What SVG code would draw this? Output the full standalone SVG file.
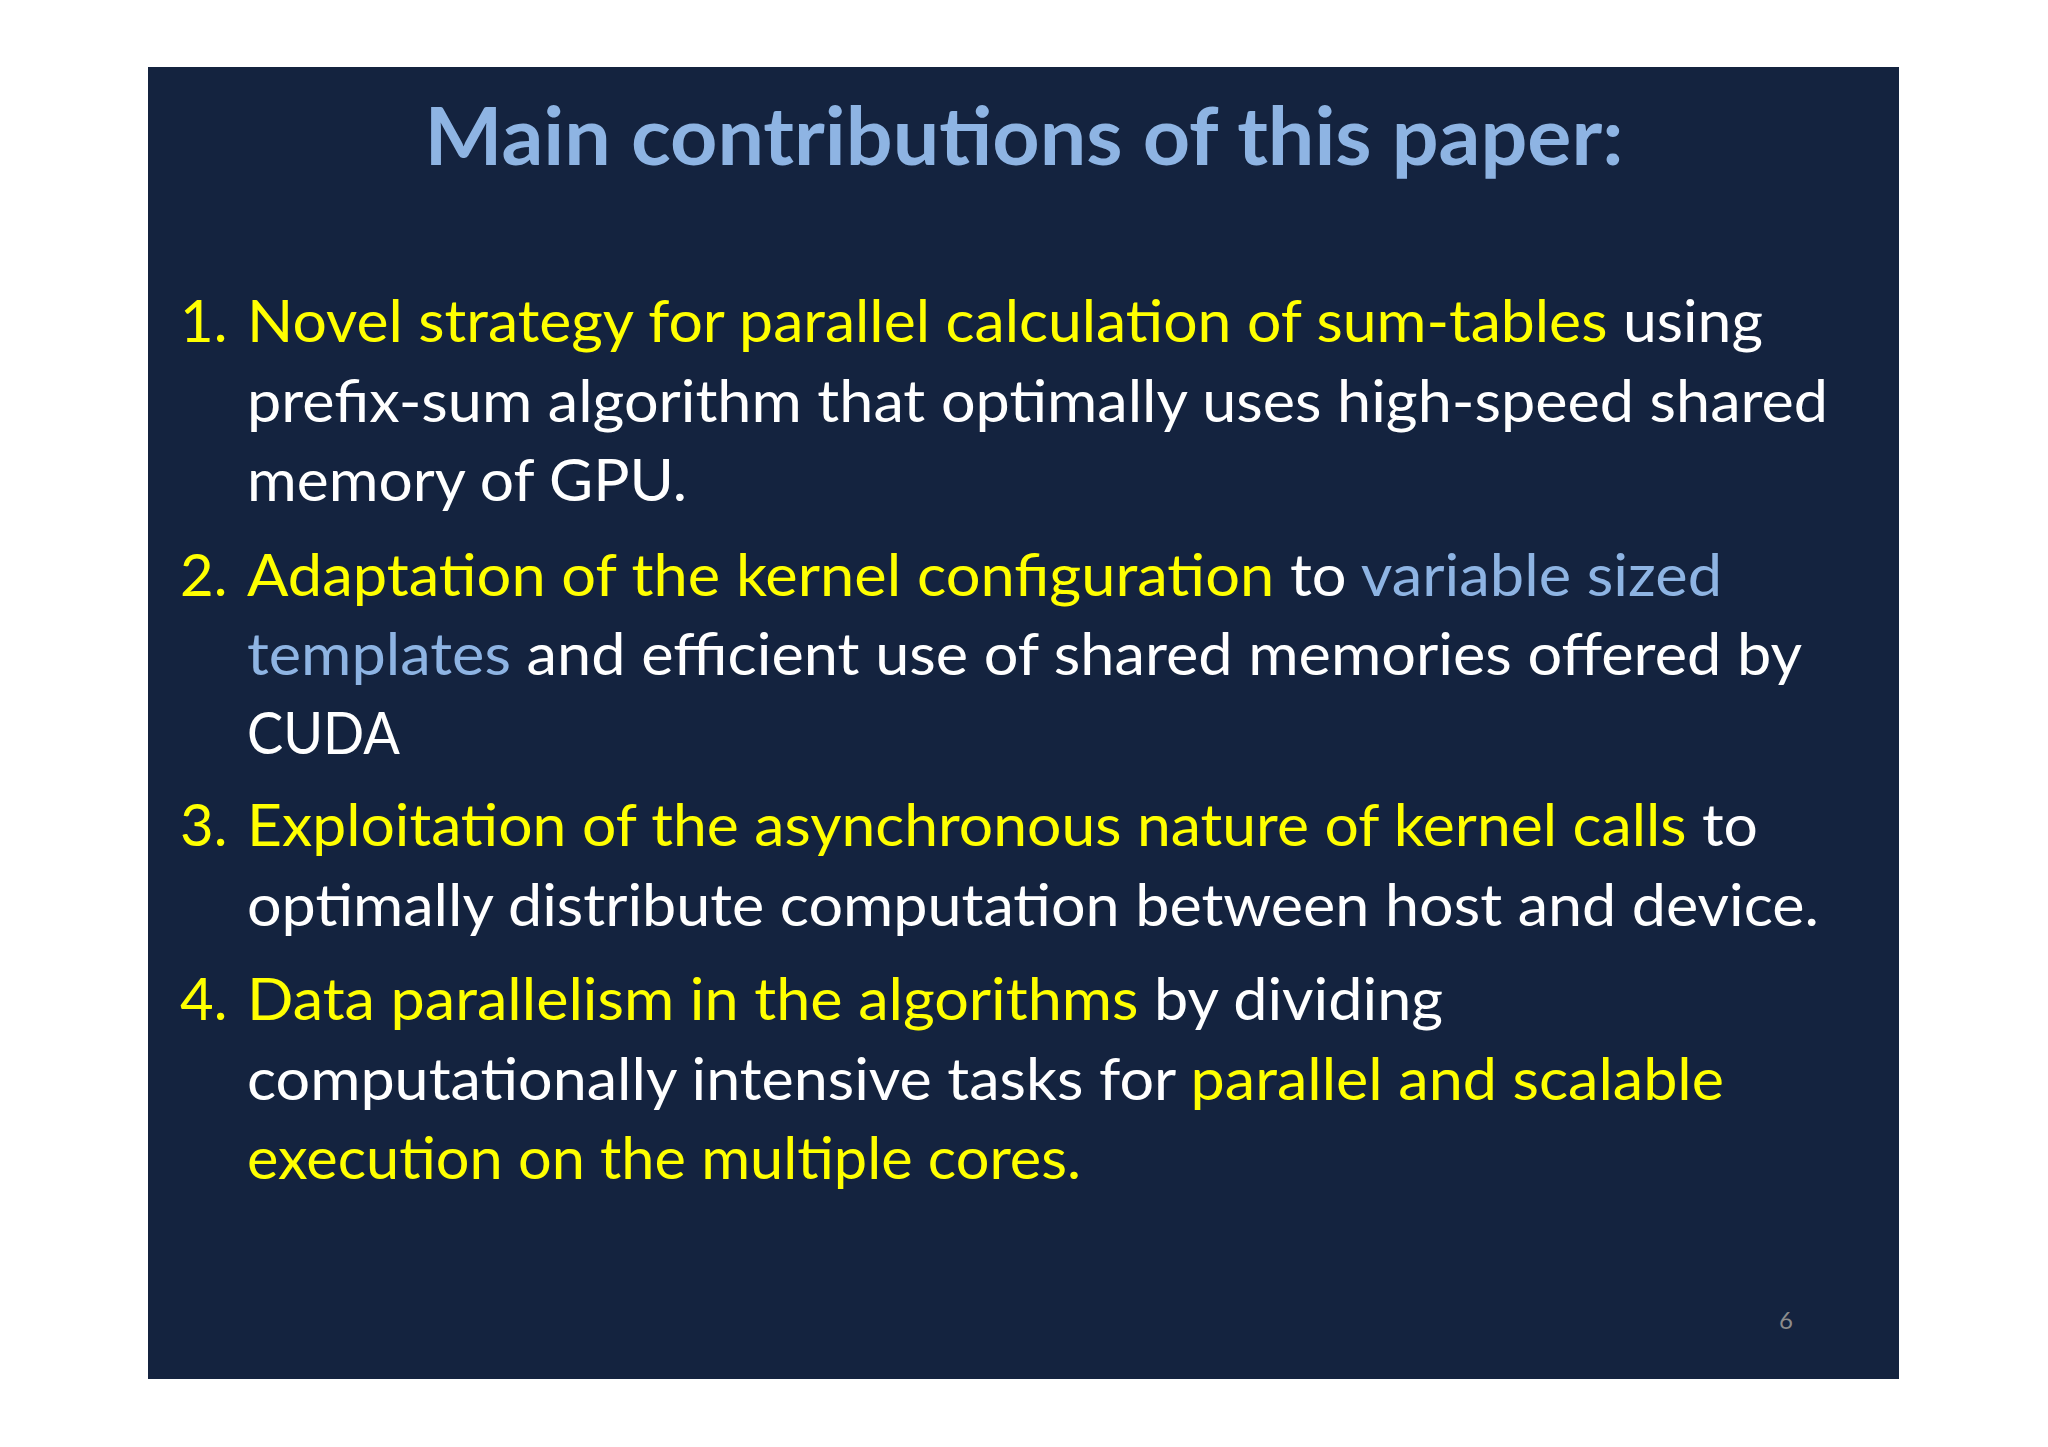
<svg xmlns="http://www.w3.org/2000/svg" width="2048" height="1447" viewBox="0 0 2048 1447">
<style>
.b{font-family:Lato,"Open Sans",sans-serif;font-size:58px;fill:#ffffff}
.y{fill:#ffff00}.l{fill:#8eb4e3}
</style>
<rect width="2048" height="1447" fill="#ffffff"/>
<rect x="148" y="67" width="1751" height="1312" fill="#14233f"/>
<text x="1024" y="165" text-anchor="middle" font-family="Lato,'Open Sans',sans-serif" font-weight="bold" font-size="80" fill="#8eb4e3" textLength="1199" lengthAdjust="spacingAndGlyphs">Main contributions of this paper:</text>
<g class="b">
<text x="180" y="342" class="y">1.</text>
<text x="247" y="342" textLength="1516" lengthAdjust="spacingAndGlyphs"><tspan class="y">Novel strategy for parallel calculation of sum-tables</tspan> using</text>
<text x="247" y="422" textLength="1581" lengthAdjust="spacingAndGlyphs">prefix-sum algorithm that optimally uses high-speed shared</text>
<text x="247" y="501" textLength="440" lengthAdjust="spacingAndGlyphs">memory of GPU.</text>
<text x="180" y="596" class="y">2.</text>
<text x="247" y="596" textLength="1475" lengthAdjust="spacingAndGlyphs"><tspan class="y">Adaptation of the kernel configuration</tspan> to  <tspan class="l">variable sized</tspan></text>
<text x="247" y="675" textLength="1555" lengthAdjust="spacingAndGlyphs"><tspan class="l">templates</tspan> and efficient use of shared memories offered by</text>
<text x="247" y="754" textLength="153" lengthAdjust="spacingAndGlyphs">CUDA</text>
<text x="180" y="846" class="y">3.</text>
<text x="247" y="846" textLength="1511" lengthAdjust="spacingAndGlyphs"><tspan class="y">Exploitation of the asynchronous nature of kernel calls</tspan> to</text>
<text x="247" y="926" textLength="1572" lengthAdjust="spacingAndGlyphs">optimally distribute computation between host and device.</text>
<text x="180" y="1020" class="y">4.</text>
<text x="247" y="1020" textLength="1196" lengthAdjust="spacingAndGlyphs"><tspan class="y">Data parallelism in the algorithms</tspan> by dividing</text>
<text x="247" y="1100" textLength="1477" lengthAdjust="spacingAndGlyphs">computationally intensive tasks for <tspan class="y">parallel and scalable</tspan></text>
<text x="247" y="1179" class="y" textLength="834" lengthAdjust="spacingAndGlyphs">execution on the multiple cores.</text>
</g>
<text x="1786" y="1329" text-anchor="middle" font-family="Lato,sans-serif" font-size="24" fill="#8c8c8c">6</text>
</svg>
